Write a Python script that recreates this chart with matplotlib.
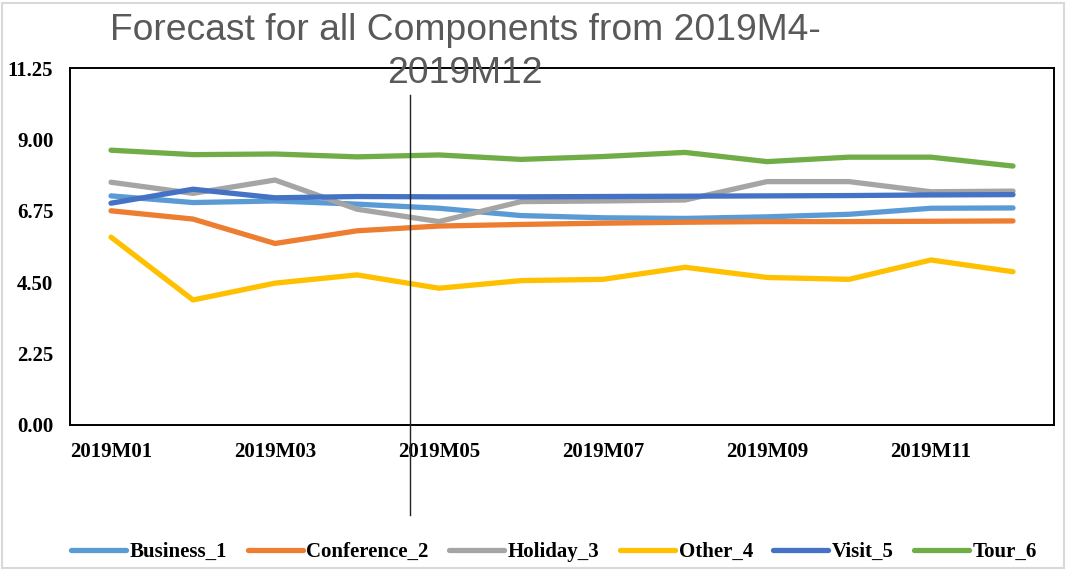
"""Forecast for all components, 2019M01-2019M12."""
import matplotlib
matplotlib.use("Agg")
import matplotlib.pyplot as plt
from matplotlib.lines import Line2D
from matplotlib.patches import Rectangle


months = ["2019M01", "2019M02", "2019M03", "2019M04", "2019M05", "2019M06",
          "2019M07", "2019M08", "2019M09", "2019M10", "2019M11", "2019M12"]

business_1 = [7.22, 7.01, 7.06, 6.96, 6.83, 6.60, 6.53, 6.51, 6.56, 6.64, 6.83, 6.84]
conference_2 = [6.75, 6.49, 5.72, 6.12, 6.27, 6.32, 6.36, 6.39, 6.41, 6.41, 6.42, 6.43]
holiday_3 = [7.65, 7.30, 7.72, 6.80, 6.41, 7.04, 7.06, 7.09, 7.67, 7.67, 7.35, 7.37]
other_4 = [5.92, 3.94, 4.47, 4.73, 4.31, 4.55, 4.59, 4.97, 4.65, 4.59, 5.20, 4.83]
visit_5 = [6.99, 7.43, 7.16, 7.20, 7.19, 7.19, 7.20, 7.21, 7.22, 7.23, 7.25, 7.26]
tour_6 = [8.66, 8.52, 8.54, 8.45, 8.51, 8.37, 8.46, 8.59, 8.30, 8.44, 8.44, 8.16]

series = [
    ("Business_1", business_1, "#5B9BD5"),
    ("Conference_2", conference_2, "#ED7D31"),
    ("Holiday_3", holiday_3, "#A5A5A5"),
    ("Other_4", other_4, "#FFC000"),
    ("Visit_5", visit_5, "#4472C4"),
    ("Tour_6", tour_6, "#70AD47"),
]
y_ticks = [0.0, 2.25, 4.5, 6.75, 9.0, 11.25]
title_lines = ["Forecast for all Components from 2019M4-", "2019M12"]

W, H = 1067, 571
fig = plt.figure(figsize=(W / 100, H / 100), dpi=100)
ax = fig.add_axes([70 / W, 1 - 425 / H, (1054 - 70) / W, (425 - 68) / H])

xs = list(range(len(months)))
for name, vals, color in series:
    ax.plot(xs, vals, color=color, lw=3.8, solid_capstyle="round",
            solid_joinstyle="round", label=name)

ax.set_xlim(-0.5, len(months) - 0.5)
ax.set_ylim(0, 11.25)
ax.set_yticks(y_ticks)
ax.set_yticklabels([f"{v:.2f}" for v in y_ticks])
ax.set_xticks(xs[::2])
ax.set_xticklabels(months[::2])
ax.tick_params(axis="x", length=0, pad=12)
ax.tick_params(axis="y", length=0, pad=12)
for lbl in ax.get_xticklabels() + ax.get_yticklabels():
    lbl.set_fontfamily("Liberation Serif")
    lbl.set_fontweight("bold")
    lbl.set_fontsize(15)
for sp in ax.spines.values():
    sp.set_linewidth(1.4)
    sp.set_color("black")

# title, two lines, off-centre as in the original
for line, base_y in zip(title_lines, [40, 83]):
    fig.text(465 / W, 1 - base_y / H, line, ha="center", va="baseline",
             fontsize=26.8, color="#595959", family="Liberation Sans")

# hand-drawn marker line
fig.add_artist(Line2D([410 / W, 410 / W], [1 - 95 / H, 1 - 515 / H],
                      transform=fig.transFigure, color="#222222", lw=1.0))

# outer chart border
fig.add_artist(Rectangle((2 / W, 3 / H), (W - 5) / W, (H - 6) / H,
                         transform=fig.transFigure, fill=False,
                         edgecolor="#D9D9D9", lw=1.5))

handles, labels = ax.get_legend_handles_labels()
fig.legend(handles, labels, loc="center", bbox_to_anchor=(554 / W, 1 - 552 / H),
           ncol=6, frameon=False, handlelength=2.64, handletextpad=0.19,
           columnspacing=0.96, borderpad=0, borderaxespad=0,
           prop={"family": "Liberation Serif", "weight": "bold", "size": 15})

fig.savefig("out.png", dpi=100)
